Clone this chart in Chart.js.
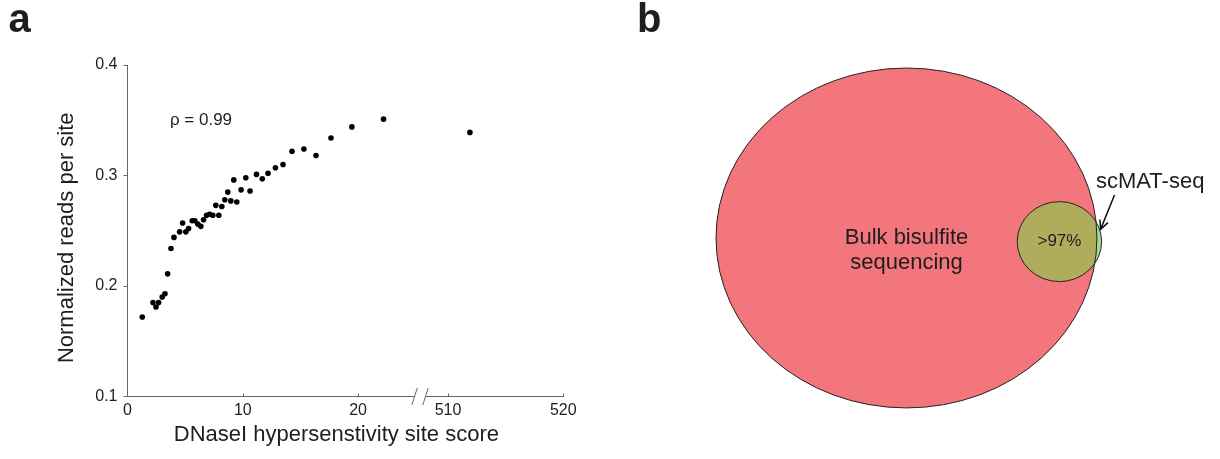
<!DOCTYPE html>
<html>
<head>
<meta charset="utf-8">
<script src="https://cdn.jsdelivr.net/npm/chart.js@4.4.1/dist/chart.umd.min.js"></script>
<style>
  body { margin: 0; background: #fff; }
  #wrap { position: relative; width: 1220px; height: 459px; }
  canvas { position: absolute; top: 0; }
  #scatter { left: 0; }
  #venn { left: 620px; }
</style>
</head>
<body>
<div id="wrap">
  <canvas id="scatter" width="600" height="459"></canvas>
  <canvas id="venn" width="600" height="459"></canvas>
</div>
<script>
// Panel a: normalized reads per site vs DNaseI hypersensitivity score
const scores = [1.28, 2.21, 2.47, 2.70, 3.01, 3.25, 3.48, 3.77, 4.03, 4.52,
                4.78, 5.06, 5.30, 5.61, 5.84, 6.10, 6.36, 6.60, 6.86, 7.12,
                7.40, 7.66, 7.92, 8.18, 8.44, 8.70, 8.96, 9.22, 9.48, 9.85,
                10.26, 10.63, 11.19, 11.69, 12.19, 12.83, 13.49, 14.27, 15.30, 16.35,
                17.65, 19.46, 22.21, 511.9];
const reads = [0.172, 0.185, 0.181, 0.185, 0.190, 0.193, 0.211, 0.234, 0.244, 0.249,
               0.257, 0.249, 0.252, 0.259, 0.259, 0.256, 0.254, 0.260, 0.264, 0.265,
               0.264, 0.273, 0.264, 0.272, 0.278, 0.285, 0.277, 0.296, 0.276, 0.287,
               0.298, 0.286, 0.301, 0.297, 0.302, 0.307, 0.310, 0.322, 0.324, 0.318,
               0.334, 0.344, 0.351, 0.339];
const xTickValues = [0, 10, 20, 510, 520];
const yTickValues = [0.1, 0.2, 0.3, 0.4];
const rho = 0.99;
const xTitle = 'DNaseI hypersenstivity site score';
const yTitle = 'Normalized reads per site';

// Panel b: sites covered by each method
const vennSets = ['Bulk bisulfite sequencing', 'scMAT-seq'];
const overlapLabel = '>97%';

const FONT = 'Arial, "Liberation Sans", Helvetica, sans-serif';
const AXIS_COLOR = '#666';
const TEXT_COLOR = '#1e1e1e';

// the x axis is broken after 20; values beyond the break get shifted left
const BREAK_SHIFT = 482.2;
const BREAK_GAP = [24.9, 25.85];
function toAxis(v) { return v > 100 ? v - BREAK_SHIFT : v; }

Chart.defaults.font.family = FONT;
Chart.defaults.color = TEXT_COLOR;

const scatterExtras = {
  id: 'scatterExtras',
  afterDraw(chart) {
    const { ctx, chartArea: area, scales: { x, y } } = chart;
    ctx.save();
    ctx.strokeStyle = AXIS_COLOR;
    ctx.lineWidth = 1;

    // small inward tick marks on the x axis
    x.ticks.forEach(t => {
      if (t.value === 0) return;
      const px = Math.round(x.getPixelForValue(t.value)) + 0.5;
      ctx.beginPath();
      ctx.moveTo(px, area.bottom);
      ctx.lineTo(px, area.bottom - 3);
      ctx.stroke();
    });

    // axis break: gap plus two slashes
    const b0 = x.getPixelForValue(BREAK_GAP[0]);
    const b1 = x.getPixelForValue(BREAK_GAP[1]);
    ctx.fillStyle = '#fff';
    ctx.fillRect(b0, area.bottom - 2, b1 - b0, 4);
    [b0, b1].forEach(bx => {
      ctx.beginPath();
      ctx.moveTo(bx - 2.7, area.bottom + 8.5);
      ctx.lineTo(bx + 2.7, area.bottom - 8.5);
      ctx.stroke();
    });

    ctx.fillStyle = TEXT_COLOR;

    // correlation note
    ctx.font = '17px ' + FONT;
    ctx.textAlign = 'left';
    ctx.textBaseline = 'middle';
    ctx.fillText('\u03c1 = ' + rho.toFixed(2), x.getPixelForValue(3.68), y.getPixelForValue(0.35));

    // axis titles
    ctx.font = '22px ' + FONT;
    ctx.textAlign = 'center';
    ctx.fillText(xTitle, (area.left + area.right) / 2 - 9, area.bottom + 38);
    ctx.save();
    ctx.translate(67, (area.top + area.bottom) / 2 + 7);
    ctx.rotate(-Math.PI / 2);
    ctx.fillText(yTitle, 0, 0);
    ctx.restore();

    // panel letter
    ctx.font = 'bold 40px ' + FONT;
    ctx.textAlign = 'left';
    ctx.textBaseline = 'alphabetic';
    ctx.fillText('a', 8.5, 32);
    ctx.restore();
  }
};

new Chart(document.getElementById('scatter'), {
  type: 'scatter',
  data: {
    datasets: [{
      data: scores.map((s, i) => ({ x: toAxis(s), y: reads[i] })),
      pointRadius: 2.8,
      pointBackgroundColor: '#000',
      pointBorderWidth: 0
    }]
  },
  options: {
    responsive: false,
    devicePixelRatio: 1,
    animation: false,
    layout: { autoPadding: false, padding: { left: 0, top: 65, right: 36.7, bottom: 0 } },
    plugins: { legend: { display: false }, tooltip: { enabled: false } },
    scales: {
      x: {
        type: 'linear',
        min: 0,
        max: toAxis(520),
        afterFit: s => { s.height = 62.5; },
        afterBuildTicks: s => { s.ticks = xTickValues.map(v => ({ value: toAxis(v) })); },
        ticks: {
          font: { size: 16, lineHeight: 1 },
          padding: 6,
          maxRotation: 0,
          autoSkip: false,
          callback: (v, i) => String(xTickValues[i])
        },
        grid: { drawOnChartArea: false, drawTicks: false },
        border: { color: AXIS_COLOR, width: 1 }
      },
      y: {
        min: 0.1,
        max: 0.4,
        afterFit: s => { s.width = 127.5; },
        afterBuildTicks: s => { s.ticks = yTickValues.map(v => ({ value: v })); },
        ticks: { font: { size: 16 }, padding: 6, callback: v => v.toFixed(1) },
        grid: { drawOnChartArea: false, tickLength: 4, color: AXIS_COLOR },
        border: { color: AXIS_COLOR, width: 1 }
      }
    }
  },
  plugins: [scatterExtras]
});

// Venn layout in plot units (big set centred at the origin)
const vennShapes = [
  { cx: 0, cy: 0, rx: 1, ry: 0.892, fill: '#f2767b' },
  { cx: 0.803, cy: -0.019, rx: 0.2215, ry: 0.21, fill: '#a6d895' }
];
const overlapFill = '#afac5b';
const calloutAt = { x: 0.995, y: 0.262 };
const arrowFrom = { x: 1.092, y: 0.226 };
const arrowTo = { x: 1.019, y: 0.045 };

function ellipsePath(ctx, e) {
  ctx.beginPath();
  ctx.ellipse(e.x, e.y, e.rx, e.ry, 0, 0, Math.PI * 2);
}

const vennDraw = {
  id: 'vennDraw',
  beforeDatasetsDraw(chart) {
    const { ctx, scales: { x, y } } = chart;
    const px = c => {
      const cx = x.getPixelForValue(c.cx);
      const cy = y.getPixelForValue(c.cy);
      return { x: cx, y: cy, rx: x.getPixelForValue(c.cx + c.rx) - cx, ry: cy - y.getPixelForValue(c.cy + c.ry) };
    };
    const [big, small] = vennShapes.map(px);
    ctx.save();

    ellipsePath(ctx, big);
    ctx.fillStyle = vennShapes[0].fill;
    ctx.fill();

    ellipsePath(ctx, small);
    ctx.fillStyle = vennShapes[1].fill;
    ctx.fill();

    // shared region
    ctx.save();
    ellipsePath(ctx, big);
    ctx.clip();
    ellipsePath(ctx, small);
    ctx.fillStyle = overlapFill;
    ctx.fill();
    ctx.restore();

    ctx.strokeStyle = '#222';
    ctx.lineWidth = 1;
    ellipsePath(ctx, big);
    ctx.stroke();
    ellipsePath(ctx, small);
    ctx.stroke();

    // labels
    ctx.fillStyle = TEXT_COLOR;
    ctx.font = '22px ' + FONT;
    ctx.textAlign = 'center';
    ctx.textBaseline = 'alphabetic';
    const name = vennSets[0];
    const cut = name.lastIndexOf(' ');
    ctx.fillText(name.slice(0, cut), big.x, big.y + 6);
    ctx.fillText(name.slice(cut + 1), big.x, big.y + 31.5);

    ctx.font = '17px ' + FONT;
    ctx.textBaseline = 'middle';
    ctx.fillText(overlapLabel, small.x, small.y);

    ctx.font = '22px ' + FONT;
    ctx.textAlign = 'left';
    ctx.textBaseline = 'alphabetic';
    ctx.fillText(vennSets[1], x.getPixelForValue(calloutAt.x), y.getPixelForValue(calloutAt.y));

    // arrow pointing at the scMAT-seq only sliver
    const ax0 = x.getPixelForValue(arrowFrom.x), ay0 = y.getPixelForValue(arrowFrom.y);
    const ax1 = x.getPixelForValue(arrowTo.x), ay1 = y.getPixelForValue(arrowTo.y);
    const ang = Math.atan2(ay1 - ay0, ax1 - ax0);
    ctx.strokeStyle = '#111';
    ctx.lineWidth = 1.5;
    ctx.beginPath();
    ctx.moveTo(ax0, ay0);
    ctx.lineTo(ax1, ay1);
    ctx.moveTo(ax1 - 10 * Math.cos(ang - 0.45), ay1 - 10 * Math.sin(ang - 0.45));
    ctx.lineTo(ax1, ay1);
    ctx.lineTo(ax1 - 10 * Math.cos(ang + 0.45), ay1 - 10 * Math.sin(ang + 0.45));
    ctx.stroke();

    // panel letter
    ctx.font = 'bold 40px ' + FONT;
    ctx.fillText('b', 17, 32);
    ctx.restore();
  }
};

new Chart(document.getElementById('venn'), {
  type: 'scatter',
  data: {
    datasets: [{
      data: vennShapes.map(s => ({ x: s.cx, y: s.cy })),
      pointRadius: 0
    }]
  },
  options: {
    responsive: false,
    devicePixelRatio: 1,
    animation: false,
    layout: { autoPadding: false, padding: 0 },
    plugins: { legend: { display: false }, tooltip: { enabled: false } },
    scales: {
      x: { type: 'linear', min: -1.504, max: 1.646, display: false },
      y: { type: 'linear', min: -1.160, max: 1.249, display: false }
    }
  },
  plugins: [vennDraw]
});
</script>
</body>
</html>
